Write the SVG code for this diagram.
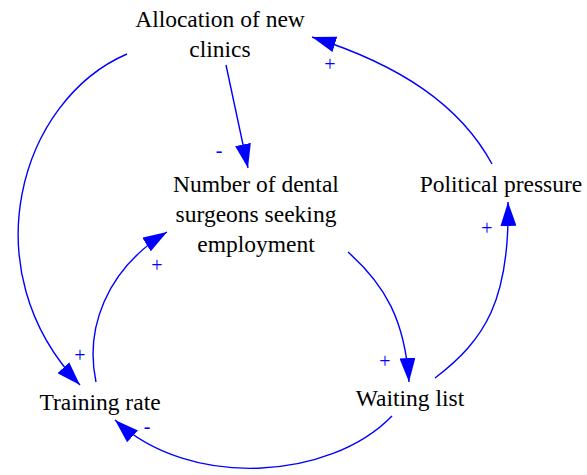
<svg xmlns="http://www.w3.org/2000/svg" width="587" height="475" viewBox="0 0 587 475">
  <defs>
    <marker id="arrow" viewBox="0 0 24 16" refX="24" refY="8" markerWidth="24" markerHeight="16" markerUnits="userSpaceOnUse" orient="auto">
      <path d="M0,0 L24,8 L0,16 z" fill="#0000ff"/>
    </marker>
  </defs>
  <style>
    .edge { fill: none; stroke: #0000ff; stroke-width: 1.4; marker-end: url(#arrow); }
    .lbl { font-family: 'Times New Roman', 'Liberation Serif', Tinos, 'DejaVu Serif', serif; }
  </style>
  <rect width="587" height="475" fill="#fff"/>

  <g id="connectors" class="lbl" font-size="20" fill="#0000ff" text-anchor="middle">
    <!-- Allocation of new clinics -> Number of dental surgeons -->
    <path class="edge" d="M226,65 L248,168"/>
    <text x="219" y="157">-</text>
    <!-- Political pressure -> Allocation of new clinics -->
    <path class="edge" d="M492,164 C460,105 400,65 312,37"/>
    <text x="330" y="71">+</text>
    <!-- Waiting list -> Political pressure -->
    <path class="edge" d="M435,378 C485,340 510,300 508,202"/>
    <text x="487" y="235">+</text>
    <!-- Number of dental surgeons -> Waiting list -->
    <path class="edge" d="M348,252 C385,285 405,320 409,382"/>
    <text x="385" y="368">+</text>
    <!-- Waiting list -> Training rate -->
    <path class="edge" d="M392,416 C330,480 190,490 115,420"/>
    <text x="147" y="433">-</text>
    <!-- Training rate -> Number of dental surgeons -->
    <path class="edge" d="M96,382 C85,330 105,270 167,232"/>
    <text x="157" y="272">+</text>
    <!-- Allocation of new clinics -> Training rate -->
    <path class="edge" d="M127,54 C20,100 -30,270 80,385"/>
    <text x="80" y="362">+</text>
  </g>

  <g class="lbl" font-size="23.5" fill="#000" text-anchor="middle">
    <g id="allocation">
      <text x="220" y="27">Allocation of new</text>
      <text x="220" y="57">clinics</text>
    </g>
    <g id="surgeons">
      <text x="256" y="192">Number of dental</text>
      <text x="256" y="222">surgeons seeking</text>
      <text x="256" y="252">employment</text>
    </g>
    <g id="political">
      <text x="501" y="192">Political pressure</text>
    </g>
    <g id="training">
      <text x="100" y="410">Training rate</text>
    </g>
    <g id="waiting">
      <text x="410" y="406">Waiting list</text>
    </g>
  </g>
</svg>
